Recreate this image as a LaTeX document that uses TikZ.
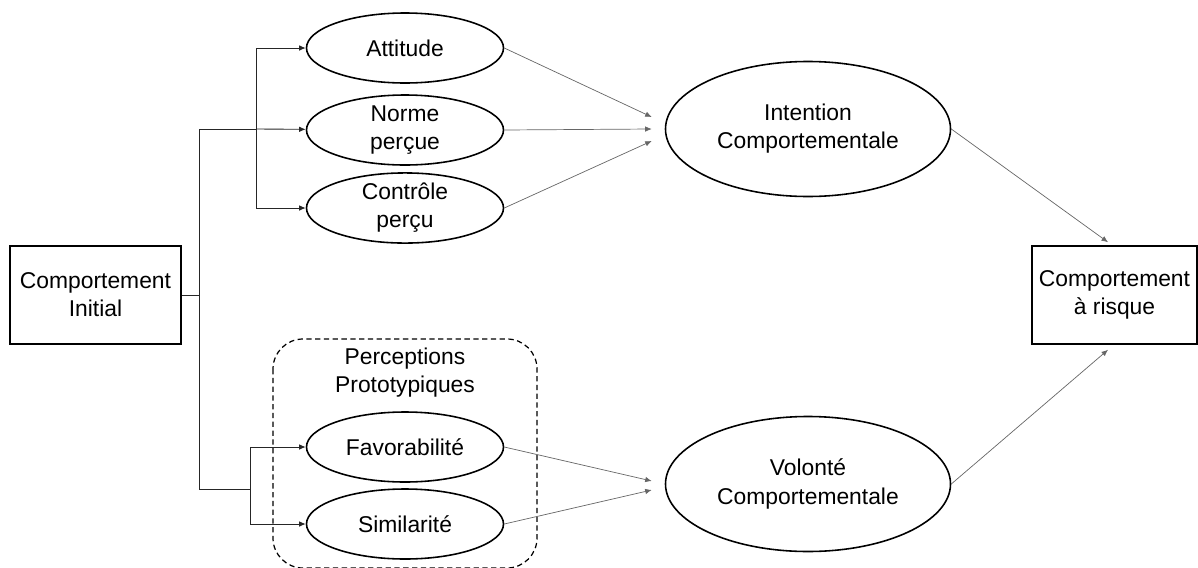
\documentclass[tikz,border=0pt]{standalone}
\usepackage{fontspec}
\setmainfont{Liberation Sans}
\usepackage{tikz}
\usetikzlibrary{shapes.geometric, arrows.meta, positioning, calc}

\tikzset{
	var/.style={ellipse, draw, line width=0.9pt, minimum width=3.94cm, minimum height=1.4cm, inner sep=0pt, align=center},
	bigvar/.style={var, minimum width=5.7cm, minimum height=2.7cm},
	behav/.style={rectangle, draw, line width=0.9pt, minimum height=1.96cm, inner sep=0pt, align=center},
	tree/.style={line width=0.5pt, black!85},
	path/.style={line width=0.4pt, black!60},
	tip/.style={-{Latex[length=1.3mm, width=1.1mm]}}
}

\begin{document}
\begin{tikzpicture}[font=\fontsize{13}{16}\selectfont]
	\useasboundingbox (0,0) rectangle (23.96,-11.34);
	
	\node[behav, minimum width=3.42cm] (init) at (1.91,-5.9) {Comportement\\Initial};
	\node[behav, minimum width=3.3cm] (risk) at (22.29,-5.9) {Comportement\\à risque};
	
	\node[var] (att) at (8.1,-0.96) {Attitude};
	\node[var] (norme) at (8.1,-2.6) {Norme\\perçue};
	\node[var] (ctrl) at (8.1,-4.16) {Contrôle\\perçu};
	\node[var] (fav) at (8.1,-8.94) {Favorabilité};
	\node[var] (sim) at (8.1,-10.48) {Similarité};
	
	\node[bigvar] (intent) at (16.16,-2.58) {Intention\\Comportementale};
	\node[bigvar] (vol) at (16.16,-9.68) {Volonté\\Comportementale};
	
	% prototype group
	\draw[dash pattern=on 3pt off 2pt, line width=0.7pt, rounded corners=0.6cm] (5.46,-6.78) rectangle (10.74,-11.36);
	\node[align=center] (proto) at (8.1,-7.46) {Perceptions\\Prototypiques};
	
	\coordinate (fork) at (3.98,0);
	\coordinate (upjoin) at (5.12,-2.58);
	\coordinate (lojoin) at (5.0,-9.78);
	
	\draw[tree] (init.east) -- (init.east -| fork) |- (upjoin);
	\draw[tree] (init.east -| fork) |- (lojoin);
	\draw[tree, tip] (upjoin) |- (att);
	\draw[tree, tip] (upjoin) -- (norme);
	\draw[tree, tip] (upjoin) |- (ctrl);
	\draw[tree, tip] (lojoin) |- (fav);
	\draw[tree, tip] (lojoin) |- (sim);
	
	\coordinate (in1) at ([xshift=-0.26cm, yshift=0.24cm]intent.west);
	\coordinate (in2) at ([xshift=-0.26cm]intent.west);
	\coordinate (in3) at ([xshift=-0.26cm, yshift=-0.24cm]intent.west);
	\coordinate (vin1) at ([xshift=-0.26cm, yshift=0.06cm]vol.west);
	\coordinate (vin2) at ([xshift=-0.26cm, yshift=-0.12cm]vol.west);
	\coordinate (rtop) at ([xshift=-0.13cm, yshift=0.06cm]risk.north);
	\coordinate (rbot) at ([xshift=-0.13cm, yshift=-0.1cm]risk.south);
	
	\draw[path, tip] (att.east) -- (in1);
	\draw[path, tip] (norme.east) -- (in2);
	\draw[path, tip] (ctrl.east) -- (in3);
	\draw[path, tip] (fav.east) -- (vin1);
	\draw[path, tip] (sim.east) -- (vin2);
	\draw[path, tip] (intent.east) -- (rtop);
	\draw[path, tip] (vol.east) -- (rbot);
\end{tikzpicture}
\end{document}
